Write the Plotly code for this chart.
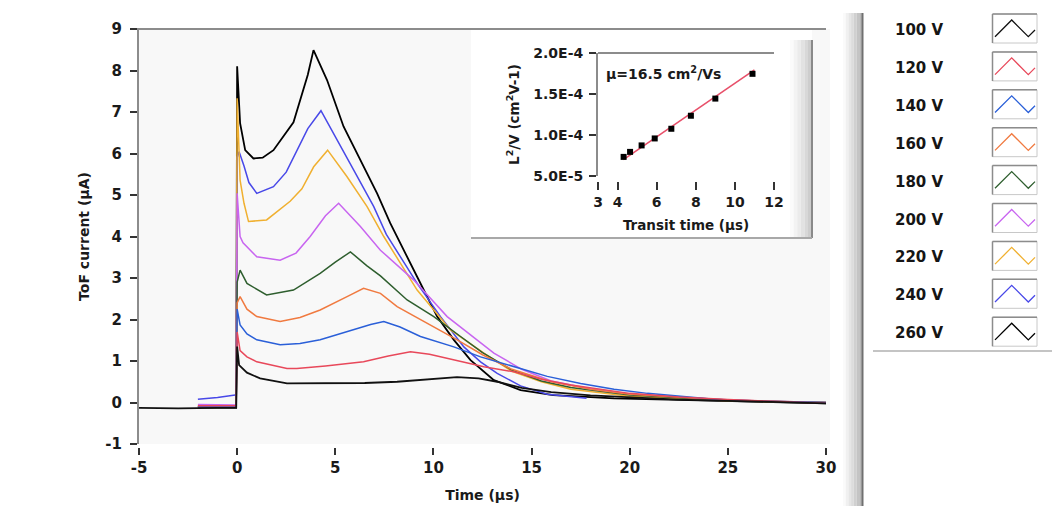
import plotly.graph_objects as go

W, H = 1052, 506

# ---------------- data ----------------
names = ["100 V", "120 V", "140 V", "160 V", "180 V", "200 V", "220 V", "240 V", "260 V"]
colors = ["#111111", "#e8485a", "#2a5fd8", "#f07a40", "#2e5e2e", "#c865f0", "#f0b030", "#4848e8", "#000000"]

t100 = [-5, -3, -1, -0.05, 0.0, 0.1, 0.5, 1.17, 2.54, 4.74, 6.5, 8.15, 9.8, 11.2, 12.3, 13.25, 14.5, 16, 18, 20, 22.5, 25, 27.5, 30]
i100 = [-0.13, -0.14, -0.13, -0.13, 1.35, 0.9, 0.72, 0.58, 0.46, 0.46, 0.47, 0.5, 0.56, 0.61, 0.58, 0.5, 0.35, 0.25, 0.17, 0.12, 0.07, 0.04, 0.01, -0.02]

t120 = [-2, -1, -0.05, 0.0, 0.15, 0.5, 1.0, 2.54, 3.04, 4.5, 6.44, 7.7, 8.83, 9.8, 10.7, 12.57, 14.1, 15.5, 17, 20, 22.5, 25, 30]
i120 = [-0.08, -0.08, -0.08, 1.7, 1.25, 1.1, 0.98, 0.82, 0.82, 0.88, 0.98, 1.12, 1.22, 1.16, 1.06, 0.86, 0.74, 0.56, 0.42, 0.22, 0.13, 0.07, -0.02]

t140 = [-2, -1, -0.05, 0.0, 0.15, 0.5, 1.0, 2.19, 3.2, 4.23, 5.94, 6.8, 7.47, 8.3, 9.34, 11.04, 12.4, 14.1, 15.8, 17.5, 19.2, 20.9, 24.3, 27, 30]
i140 = [-0.1, -0.1, -0.1, 2.25, 1.87, 1.65, 1.51, 1.39, 1.42, 1.51, 1.75, 1.88, 1.95, 1.82, 1.59, 1.34, 1.1, 0.86, 0.63, 0.46, 0.32, 0.22, 0.08, 0.03, 0.0]

t160 = [-2, -1, -0.05, 0.0, 0.15, 0.5, 1.0, 2.19, 3.2, 4.23, 5.0, 5.6, 6.44, 7.3, 8.15, 9.68, 11.21, 12.5, 14, 16, 18, 20, 25, 30]
i160 = [-0.1, -0.1, -0.1, 2.4, 2.55, 2.25, 2.07, 1.95, 2.05, 2.23, 2.4, 2.55, 2.75, 2.63, 2.31, 1.91, 1.51, 1.15, 0.8, 0.5, 0.32, 0.2, 0.06, 0.0]

t180 = [-2, -1, -0.05, 0.0, 0.15, 0.5, 1.5, 2.87, 4.23, 5.0, 5.77, 6.6, 7.3, 8.66, 10.02, 11.38, 12.5, 14, 15.5, 17, 20, 25, 30]
i180 = [-0.1, -0.1, -0.1, 2.9, 3.19, 2.87, 2.59, 2.71, 3.11, 3.38, 3.63, 3.3, 3.05, 2.47, 2.07, 1.59, 1.2, 0.78, 0.52, 0.36, 0.18, 0.05, 0.0]

t200 = [-2, -1, -0.05, 0.0, 0.15, 0.3, 1.0, 2.19, 3.0, 3.72, 4.5, 5.17, 6.28, 7.3, 9.0, 10.7, 12.4, 13.08, 14.5, 16, 18, 20, 25, 30]
i200 = [-0.05, -0.06, -0.06, 5.04, 4.0, 3.85, 3.51, 3.43, 3.6, 4.0, 4.5, 4.8, 4.24, 3.67, 2.95, 2.07, 1.43, 1.19, 0.8, 0.52, 0.33, 0.2, 0.06, 0.0]

t220 = [-2, -1, -0.05, 0.0, 0.15, 0.35, 0.58, 1.5, 2.7, 3.3, 3.9, 4.61, 5.6, 6.62, 7.47, 9.17, 10.87, 12.57, 14, 15.5, 17, 20, 25, 30]
i220 = [-0.08, -0.08, -0.08, 7.33, 5.36, 4.8, 4.36, 4.4, 4.85, 5.15, 5.68, 6.08, 5.44, 4.72, 4.0, 2.71, 1.75, 1.19, 0.75, 0.5, 0.32, 0.15, 0.04, 0.0]

t240 = [-2, -1, -0.1, -0.05, 0.0, 0.1, 0.35, 0.6, 1.0, 1.85, 2.5, 3.04, 3.6, 4.27, 4.91, 5.94, 6.96, 7.6, 9.17, 10.36, 11.55, 12.4, 13.25, 14.44, 15.8, 17.8]
i240 = [0.08, 0.12, 0.18, 0.18, 5.9, 6.04, 5.7, 5.3, 5.04, 5.2, 5.55, 6.08, 6.6, 7.03, 6.49, 5.6, 4.72, 4.05, 2.87, 2.07, 1.34, 0.98, 0.7, 0.4, 0.2, 0.1]

t260 = [-2, -1, -0.05, 0.0, 0.15, 0.41, 0.83, 1.3, 1.85, 2.87, 3.3, 3.6, 3.89, 4.58, 5.42, 6.28, 7.13, 7.8, 8.15, 9.17, 10.19, 11.04, 11.89, 13.08, 14.44, 16.1, 19.2, 22.6, 26, 30]
i260 = [-0.12, -0.12, -0.12, 8.1, 6.73, 6.08, 5.88, 5.9, 6.08, 6.75, 7.4, 7.9, 8.49, 7.77, 6.65, 5.84, 5.04, 4.32, 4.0, 3.03, 2.07, 1.51, 1.02, 0.54, 0.3, 0.18, 0.1, 0.06, 0.02, -0.02]

times = [t100, t120, t140, t160, t180, t200, t220, t240, t260]
currents = [i100, i120, i140, i160, i180, i200, i220, i240, i260]

x_ticks = [-5, 0, 5, 10, 15, 20, 25, 30]
x_ticktext = ["-5", "0", "5", "10", "15", "20", "25", "30"]
y_ticks = [-1, 0, 1, 2, 3, 4, 5, 6, 7, 8, 9]
y_ticktext = ["-1", "0", "1", "2", "3", "4", "5", "6", "7", "8", "9"]

# inset: L^2/V vs transit time
transit_t = [4.31, 4.64, 5.23, 5.90, 6.75, 7.75, 9.0, 10.9]
l2v = [7.33e-5, 7.94e-5, 8.73e-5, 9.58e-5, 1.076e-4, 1.235e-4, 1.444e-4, 1.746e-4]
fit_t = [4.3, 11.0]
fit_l2v = [7.0e-5, 1.795e-4]
inset_xticks = [3, 4, 6, 8, 10, 12]
inset_yticks = [5e-5, 1e-4, 1.5e-4, 2e-4]
inset_yticktext = ["5.0E-5", "1.0E-4", "1.5E-4", "2.0E-4"]
mobility_label = "µ=16.5 cm<sup>2</sup>/Vs"

# ---------------- helpers ----------------
def X(px):
    return px / W

def Y(py):
    return 1 - py / H

FONT = "DejaVu Sans"
TXT = "#1a1a1a"
AX = "#8c8c8c"

def bfont(size, color=TXT):
    return dict(family=FONT, size=size, color=color, weight="bold")

fig = go.Figure()

# draw high voltages first so lower-voltage traces sit on top
for k in reversed(range(len(names))):
    fig.add_trace(go.Scatter(
        x=times[k], y=currents[k], mode="lines", name=names[k],
        line=dict(color=colors[k], width=1.8 if k in (0, 8) else 1.5),
        xaxis="x", yaxis="y", showlegend=False, hoverinfo="skip"))

fig.add_trace(go.Scatter(x=fit_t, y=fit_l2v, mode="lines",
                         line=dict(color="#e8506a", width=1.6),
                         xaxis="x2", yaxis="y2", showlegend=False))
fig.add_trace(go.Scatter(x=transit_t, y=l2v, mode="markers",
                         marker=dict(symbol="square", size=6, color="#000000"),
                         xaxis="x2", yaxis="y2", showlegend=False))

shapes = []
# main plot background
shapes.append(dict(type="rect", xref="paper", yref="paper", layer="below",
                   x0=X(137), x1=X(830), y0=Y(444), y1=Y(29),
                   fillcolor="#f8f8f8", line=dict(width=0)))
# main top frame
shapes.append(dict(type="line", xref="paper", yref="paper", layer="below",
                   x0=X(137), x1=X(826), y0=Y(29), y1=Y(29),
                   line=dict(color=AX, width=2)))
# inset panel
shapes.append(dict(type="rect", xref="paper", yref="paper", layer="below",
                   x0=X(471), x1=X(812), y0=Y(238), y1=Y(30),
                   fillcolor="#ffffff", line=dict(width=0)))
grad = ["#fbfbfb", "#f3f3f3", "#ebebeb", "#e2e2e2", "#d8d8d8", "#cdcdcd"]
for g, col in enumerate(grad):
    shapes.append(dict(type="rect", xref="paper", yref="paper", layer="below",
                       x0=X(790 + g * 3.6), x1=X(790 + (g + 1) * 3.6), y0=Y(238), y1=Y(40),
                       fillcolor=col, line=dict(width=0)))
shapes.append(dict(type="line", xref="paper", yref="paper", layer="below",
                   x0=X(812), x1=X(812), y0=Y(238), y1=Y(40),
                   line=dict(color="#8a8a8a", width=2)))
shapes.append(dict(type="line", xref="paper", yref="paper", layer="below",
                   x0=X(471), x1=X(812), y0=Y(238), y1=Y(238),
                   line=dict(color="#a8a8a8", width=2)))
# inset plot top frame
shapes.append(dict(type="line", xref="x2 domain", yref="y2 domain", layer="below",
                   x0=0, x1=1, y0=1, y1=1, line=dict(color=AX, width=2)))
# right divider band
grad2 = ["#fafafa", "#f0f0f0", "#e6e6e6", "#dcdcdc", "#d0d0d0", "#c4c4c4", "#b8b8b8"]
for g, col in enumerate(grad2):
    shapes.append(dict(type="rect", xref="paper", yref="paper", layer="below",
                       x0=X(843 + g * 2.7), x1=X(843 + (g + 1) * 2.7), y0=0, y1=Y(13),
                       fillcolor=col, line=dict(width=0)))
shapes.append(dict(type="line", xref="paper", yref="paper", layer="below",
                   x0=X(862.5), x1=X(862.5), y0=0, y1=Y(13),
                   line=dict(color="#707070", width=2)))
# legend bottom rule
shapes.append(dict(type="line", xref="paper", yref="paper", layer="below",
                   x0=X(873), x1=X(1052), y0=Y(351), y1=Y(351),
                   line=dict(color="#b0b0b0", width=1.5)))

annotations = []
row0, row_step = 29, 37.9
for k, nm in enumerate(names):
    c = row0 + k * row_step
    annotations.append(dict(xref="paper", yref="paper", x=X(893), y=Y(c + 1),
                            xanchor="left", yanchor="middle", showarrow=False,
                            text=nm, font=bfont(15, "#151515")))
    bx0, bx1 = 992.5, 1037
    shapes.append(dict(type="rect", xref="paper", yref="paper", layer="below",
                       x0=X(bx0), x1=X(bx1), y0=Y(c + 14), y1=Y(c - 15),
                       fillcolor="#ffffff", line=dict(color="#c8c8c8", width=1)))
    shapes.append(dict(type="path", xref="paper", yref="paper", layer="below",
                       path=f"M {X(bx0)},{Y(c - 15)} L {X(bx1)},{Y(c - 15)} M {X(bx0)},{Y(c - 15)} L {X(bx0)},{Y(c + 14)}",
                       line=dict(color="#8c8c8c", width=1.5)))
    pts = [(bx0 + 2.5, c + 7.7), (bx0 + 19.2, c - 9), (bx0 + 35.8, c + 7.7), (bx0 + 42.5, c + 1)]
    path = "M " + " L ".join(f"{X(px)},{Y(py)}" for px, py in pts)
    shapes.append(dict(type="path", xref="paper", yref="paper", layer="above",
                       path=path, line=dict(color=colors[k], width=1.3)))

annotations.append(dict(xref="paper", yref="paper", x=X(604), y=Y(73),
                        xanchor="left", yanchor="middle", showarrow=False,
                        text=mobility_label, font=bfont(14)))

fig.update_layout(
    width=W, height=H, margin=dict(l=0, r=0, t=0, b=0),
    paper_bgcolor="#ffffff", plot_bgcolor="rgba(0,0,0,0)",
    showlegend=False, shapes=shapes, annotations=annotations,
    font=dict(family=FONT, color=TXT),
    xaxis=dict(domain=[X(139), X(826)], range=[-5, 30], anchor="free", position=Y(447),
               automargin=False,
               showline=False, showgrid=False, zeroline=False,
               tickmode="array", tickvals=x_ticks, ticktext=x_ticktext,
               ticks="outside", ticklen=7,
               tickwidth=1.5, tickcolor="#333333", tickfont=bfont(15),
               title=dict(text="Time (µs)", font=bfont(14), standoff=14)),
    yaxis=dict(domain=[Y(444), Y(29)], range=[-1, 9], anchor="x", automargin=False,
               showline=True, linecolor=AX, linewidth=2, showgrid=False, zeroline=False,
               tickmode="array", tickvals=y_ticks, ticktext=y_ticktext,
               ticks="outside", ticklen=7, ticklabelstandoff=5,
               tickwidth=1.5, tickcolor="#333333", tickfont=bfont(15),
               title=dict(text="ToF current (µA)", font=bfont(14), standoff=12)),
    xaxis2=dict(domain=[X(598), X(774)], range=[3, 12], anchor="free", position=Y(181),
                automargin=False,
                showline=False, showgrid=False, zeroline=False,
                tickmode="array", tickvals=inset_xticks, ticks="outside", ticklen=8,
                tickwidth=1.5, tickcolor="#333333", tickfont=bfont(14),
                title=dict(text="Transit time (µs)", font=bfont(13.5), standoff=11)),
    yaxis2=dict(domain=[Y(176), Y(53)], range=[5e-5, 2e-4], anchor="x2", automargin=False,
                showline=True, linecolor=AX, linewidth=2, showgrid=False, zeroline=False,
                tickmode="array", tickvals=inset_yticks, ticktext=inset_yticktext,
                ticks="outside", ticklen=7, tickwidth=1.5, tickcolor="#333333",
                tickfont=bfont(14), ticklabelstandoff=3,
                title=dict(text="L<sup>2</sup>/V (cm<sup>2</sup>V-1)", font=bfont(13.5), standoff=11)),
)

fig.write_html("out.html")
